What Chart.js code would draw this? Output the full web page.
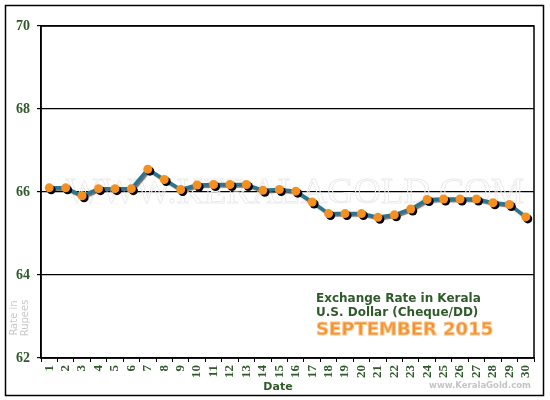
<!DOCTYPE html>
<html>
<head>
<meta charset="utf-8">
<script src="https://cdn.jsdelivr.net/npm/chart.js@4"></script>
<style>
  html, body { margin: 0; padding: 0; background: #fff; }
  #wrap { width: 550px; height: 400px; }
</style>
</head>
<body>
<div id="wrap"><canvas id="rate-chart" width="550" height="400"></canvas></div>
<script>
// chart data
const dates = ["1", "2", "3", "4", "5", "6", "7", "8", "9", "10", "11", "12", "13", "14", "15",
    "16", "17", "18", "19", "20", "21", "22", "23", "24", "25", "26", "27", "28", "29", "30"];
const rates = [66.10, 66.10, 65.91, 66.08, 66.08, 66.08, 66.55, 66.30, 66.06, 66.17,
    66.18, 66.18, 66.18, 66.04, 66.06, 66.02, 65.76, 65.48, 65.48, 65.48,
    65.39, 65.45, 65.59, 65.82, 65.83, 65.83, 65.83, 65.74, 65.70, 65.40];
const yMin = 62;
const yMax = 70;
const yStep = 2;

// text
const titleLines = ["Exchange Rate in Kerala", "U.S. Dollar (Cheque/DD)"];
const monthText = "SEPTEMBER 2015";
const xTitle = "Date";
const yTitle = ["Rate in", "Rupees"];

const green = "#2f5a2a";

// shadow under line (light) and dots (hard)
const shadowPlugin = {
    id: "shadow",
    beforeDatasetDraw(chart, args) {
        const ctx = chart.ctx;
        ctx.save();
        if (args.index === 0) {
            ctx.shadowColor = "rgba(0,0,0,0.55)";
            ctx.shadowOffsetX = 1.5;
            ctx.shadowOffsetY = 1.5;
            ctx.shadowBlur = 1;
        } else {
            ctx.shadowColor = "#000";
            ctx.shadowOffsetX = 2;
            ctx.shadowOffsetY = 2;
            ctx.shadowBlur = 0.5;
        }
    },
    afterDatasetDraw(chart) {
        chart.ctx.restore();
    }
};

// watermark, frame and texts
const decoPlugin = {
    id: "deco",
    beforeDatasetsDraw(chart) {
        const ctx = chart.ctx;
        ctx.save();
        ctx.font = "36px 'Liberation Serif'";
        const w = ctx.measureText("WWW.KERALAGOLD.COM").width;
        ctx.translate(66, 203);
        ctx.scale(458 / w, 1);
        ctx.strokeStyle = "#ebebeb";
        ctx.lineWidth = 1;
        ctx.textBaseline = "alphabetic";
        ctx.strokeText("WWW.KERALAGOLD.COM", 0, 0);
        ctx.restore();
    },
    afterDraw(chart) {
        const ctx = chart.ctx;
        const a = chart.chartArea;
        ctx.save();
        // plot frame
        ctx.strokeStyle = "#000";
        ctx.lineWidth = 1.5;
        ctx.strokeRect(a.left, a.top, a.right - a.left, a.bottom - a.top);
        // outer frame
        ctx.strokeRect(5.5, 5.5, 538, 390);

        // legend text
        ctx.textBaseline = "middle";
        ctx.textAlign = "left";
        ctx.fillStyle = green;
        ctx.font = "bold 12px 'DejaVu Sans'";
        ctx.fillText(titleLines[0], 316, 299);
        ctx.fillText(titleLines[1], 316, 313);
        ctx.font = "bold 18px 'DejaVu Sans'";
        ctx.fillStyle = "#f5912a";
        ctx.strokeStyle = "#f9c28a";
        ctx.lineWidth = 1;
        ctx.fillText(monthText, 316, 330);
        ctx.strokeText(monthText, 316, 330);

        // axis titles
        ctx.fillStyle = green;
        ctx.textAlign = "center";
        ctx.font = "bold 11px 'DejaVu Sans'";
        ctx.fillText(xTitle, 278, 387);

        ctx.fillStyle = "#c8c8c8";
        ctx.font = "10px 'DejaVu Sans'";
        ctx.translate(14, 318);
        ctx.rotate(-Math.PI / 2);
        ctx.fillText(yTitle[0], 0, 0);
        ctx.fillText(yTitle[1], 0, 11);
        ctx.restore();

        ctx.save();
        ctx.fillStyle = "#c4c4c4";
        ctx.font = "bold 8.5px 'DejaVu Sans'";
        ctx.textAlign = "center";
        ctx.textBaseline = "middle";
        ctx.fillText("www.KeralaGold.com", 480, 386);
        ctx.restore();
    }
};

new Chart(document.getElementById("rate-chart"), {
    type: "line",
    data: {
        labels: dates,
        datasets: [{
            data: rates,
            order: 2,
            borderColor: "#2b7592",
            borderWidth: 3.5,
            pointRadius: 0,
            tension: 0,
            fill: false
        }, {
            data: rates,
            order: 1,
            showLine: false,
            pointBackgroundColor: "#f5901e",
            pointBorderWidth: 0,
            pointRadius: 4.5
        }]
    },
    options: {
        responsive: false,
        animation: false,
        devicePixelRatio: 1,
        layout: { padding: { left: 5, top: 26, right: 16, bottom: 0 } },
        plugins: {
            legend: { display: false },
            tooltip: { enabled: false }
        },
        scales: {
            x: {
                offset: true,
                grid: {
                    offset: true,
                    drawOnChartArea: false,
                    color: "#000",
                    tickLength: 4,
                    lineWidth: 1
                },
                border: { color: "#000", width: 1.5 },
                ticks: {
                    minRotation: 90,
                    maxRotation: 90,
                    autoSkip: false,
                    padding: 3,
                    color: green,
                    font: { family: "'Liberation Serif'", size: 13, weight: "bold" }
                },
                afterFit(scale) { scale.height = 42; }
            },
            y: {
                min: yMin,
                max: yMax,
                grid: {
                    color: "#000",
                    lineWidth: 1.2,
                    tickLength: 4
                },
                border: { color: "#000", width: 1.5 },
                ticks: {
                    stepSize: yStep,
                    padding: 7,
                    color: green,
                    font: { family: "'Liberation Serif'", size: 14, weight: "bold" }
                },
                afterFit(scale) { scale.width = 36; }
            }
        }
    },
    plugins: [shadowPlugin, decoPlugin]
});
</script>
</body>
</html>
